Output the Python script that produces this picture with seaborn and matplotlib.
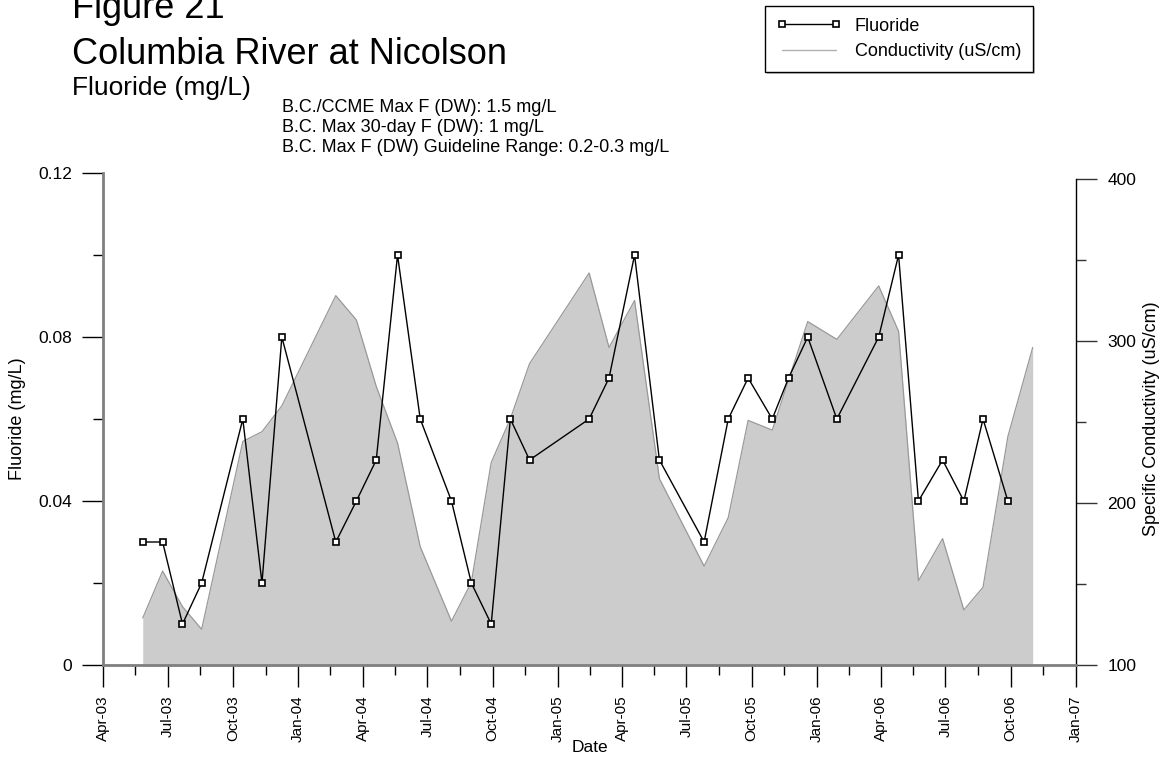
import matplotlib
matplotlib.use("Agg")
import matplotlib.pyplot as plt
import matplotlib.dates as mdates
from matplotlib.lines import Line2D
from matplotlib.ticker import FixedLocator, FuncFormatter
import numpy as np
import pandas as pd
import seaborn as sns

# Sampling dates (the last one has a conductivity reading only)
sample_dates = [
    "2003-05-27", "2003-06-24", "2003-07-22", "2003-08-18", "2003-10-15",
    "2003-11-11", "2003-12-09", "2004-02-23", "2004-03-23", "2004-04-20",
    "2004-05-20", "2004-06-21", "2004-08-04", "2004-09-01", "2004-09-29",
    "2004-10-26", "2004-11-22", "2005-02-14", "2005-03-14", "2005-04-19",
    "2005-05-24", "2005-07-26", "2005-08-29", "2005-09-26", "2005-10-30",
    "2005-11-22", "2005-12-19", "2006-01-29", "2006-03-29", "2006-04-26",
    "2006-05-24", "2006-06-27", "2006-07-27", "2006-08-23", "2006-09-27",
    "2006-11-01",
]

# Fluoride (mg/L)
fluoride = [
    0.03, 0.03, 0.01, 0.02, 0.06, 0.02, 0.08, 0.03, 0.04, 0.05,
    0.10, 0.06, 0.04, 0.02, 0.01, 0.06, 0.05, 0.06, 0.07, 0.10,
    0.05, 0.03, 0.06, 0.07, 0.06, 0.07, 0.08, 0.06, 0.08, 0.10,
    0.04, 0.05, 0.04, 0.06, 0.04, np.nan,
]

# Specific conductivity (uS/cm)
conductivity = [
    129, 158, 136, 122, 238, 244, 260, 328, 313, 272,
    237, 173, 127, 151, 225, 252, 286, 342, 296, 325,
    215, 161, 191, 251, 245, 276, 312, 301, 334, 306,
    152, 178, 134, 148, 241, 296,
]

fluoride_ticks = [0, 0.04, 0.08, 0.12]
fluoride_minor = [0.02, 0.06, 0.10]
cond_ticks = [100, 200, 300, 400]
cond_minor = [150, 250, 350]

annotations = [
    "B.C./CCME Max F (DW): 1.5 mg/L",
    "B.C. Max 30-day F (DW): 1 mg/L",
    "B.C. Max F (DW) Guideline Range: 0.2-0.3 mg/L",
]

df = pd.DataFrame({
    "Date": pd.to_datetime(sample_dates),
    "Fluoride": fluoride,
    "Conductivity": conductivity,
})

sns.set_style("white")
plt.rcParams["font.family"] = ["Liberation Sans", "DejaVu Sans"]
plt.rcParams["text.color"] = "black"
plt.rcParams["axes.labelcolor"] = "black"
plt.rcParams["xtick.color"] = "black"
plt.rcParams["ytick.color"] = "black"

W, H = 1165, 759
fig = plt.figure(figsize=(W / 100, H / 100), dpi=100)

left, right, top, bottom = 103, 1076, 173, 665
ax = fig.add_axes([left / W, 1 - bottom / H, (right - left) / W, (bottom - top) / H])
ax2 = ax.twinx()

# Conductivity as a shaded area on the right axis
cond_top = 100 + (bottom - top) * 300 / 486
ax2.fill_between(df["Date"], df["Conductivity"], 100, color="#cccccc",
                 linewidth=0, zorder=1)
sns.lineplot(data=df, x="Date", y="Conductivity", ax=ax2, color="#999999",
             linewidth=0.9, zorder=2)
ax2.set_ylim(100, cond_top)

# Fluoride line with square markers on the left axis
fl = df.dropna(subset=["Fluoride"])
sns.lineplot(data=fl, x="Date", y="Fluoride", ax=ax, color="black",
             linewidth=1.0, marker="s", markersize=4.5,
             markerfacecolor="white", markeredgecolor="black",
             markeredgewidth=1.2, zorder=3)
ax.set_zorder(ax2.get_zorder() + 1)
ax.patch.set_visible(False)

ax.set_ylim(0, 0.12)
x0, x1 = pd.Timestamp("2003-04-01"), pd.Timestamp("2007-01-01")
ax.set_xlim(x0, x1)

# Quarterly major ticks with minor ticks halfway between them
major = pd.date_range(x0, x1, freq="QS-JAN")
major_num = mdates.date2num(major)
minor_num = (major_num[:-1] + major_num[1:]) / 2
ax.xaxis.set_major_locator(FixedLocator(major_num))
ax.xaxis.set_minor_locator(FixedLocator(minor_num))
ax.xaxis.set_major_formatter(mdates.DateFormatter("%b-%y"))
for lab in ax.get_xticklabels():
    lab.set_rotation(90)

ax.yaxis.set_major_locator(FixedLocator(fluoride_ticks))
ax.yaxis.set_minor_locator(FixedLocator(fluoride_minor))
ax.yaxis.set_major_formatter(FuncFormatter(lambda v, p: "0" if v == 0 else f"{v:.2f}"))
ax2.yaxis.set_major_locator(FixedLocator(cond_ticks))
ax2.yaxis.set_minor_locator(FixedLocator(cond_minor))

ax.tick_params(axis="x", which="major", direction="out", length=16,
               width=1, color="black", labelcolor="black", labelsize=11, pad=6)
ax.tick_params(axis="y", which="major", direction="out", length=15,
               width=1, color="black", labelcolor="black", labelsize=12.5, pad=7)
ax.tick_params(axis="both", which="minor", direction="out", length=7.5,
               width=1, color="black")
ax.tick_params(axis="x", which="both", bottom=True)
ax.tick_params(axis="y", which="both", left=True)
ax2.tick_params(axis="y", which="major", direction="out", length=15, width=1,
                color="#333333", labelcolor="black", labelsize=12.5, pad=7.5)
ax2.tick_params(axis="y", which="minor", direction="out", length=7.5, width=1,
                color="#333333")

for a in (ax, ax2):
    a.spines["top"].set_visible(False)
ax.spines["right"].set_visible(False)
ax2.spines["left"].set_visible(False)
ax2.spines["bottom"].set_visible(False)
ax.spines["left"].set_color("#7f7f7f")
ax.spines["left"].set_linewidth(2)
ax.spines["bottom"].set_color("#7f7f7f")
ax.spines["bottom"].set_linewidth(2)
ax2.spines["right"].set_color("black")
ax2.spines["right"].set_linewidth(1)
ax2.spines["right"].set_bounds(100, 400)

ax.set_xlabel("Date", fontsize=12.5, color="black")
ax.set_ylabel("Fluoride (mg/L)", fontsize=13, color="black")
ax2.set_ylabel("Specific Conductivity (uS/cm)", fontsize=13, color="black")
ax.xaxis.set_label_coords(0.5, (bottom - 748) / (bottom - top))
ax.xaxis.label.set_va("center")
ax.yaxis.set_label_coords((18 - left) / (right - left), 0.5)
ax.yaxis.label.set_va("center")
ax2.yaxis.set_label_coords((1152 - left) / (right - left), 0.5)
ax2.yaxis.label.set_va("center")

# Titles and guideline notes
fig.text(72 / W, 1 - 18 / H, "Figure 21", fontsize=26, va="baseline", color="black")
fig.text(72 / W, 1 - 64 / H, "Columbia River at Nicolson", fontsize=26,
         va="baseline", color="black")
fig.text(72 / W, 1 - 95 / H, "Fluoride (mg/L)", fontsize=19, va="baseline",
         color="black")
for i, t in enumerate(annotations):
    fig.text(282 / W, 1 - (111.5 + 20.5 * i) / H, t, fontsize=13,
             va="baseline", color="black")

handles = [
    Line2D([], [], color="black", linewidth=1.0, marker="s", markersize=4.5,
           markerfacecolor="white", markeredgecolor="black", markeredgewidth=1.2),
    Line2D([], [], color="#b0b0b0", linewidth=1.0),
]
leg = fig.legend(handles, ["Fluoride", "Conductivity (uS/cm)"],
                 loc="upper right", bbox_to_anchor=(1033 / W, 1 - 6 / H),
                 frameon=True, fancybox=False, edgecolor="black",
                 fontsize=13, numpoints=2, handlelength=3.6, handletextpad=0.75,
                 borderpad=0.65, labelspacing=0.45, borderaxespad=0,
                 framealpha=1, labelcolor="black",
                 shadow={"ox": 1.5, "oy": -1.5, "facecolor": "#c8c8c8",
                         "edgecolor": "none", "alpha": 1})
leg.get_frame().set_linewidth(1)

fig.savefig("out.png", dpi=100)
